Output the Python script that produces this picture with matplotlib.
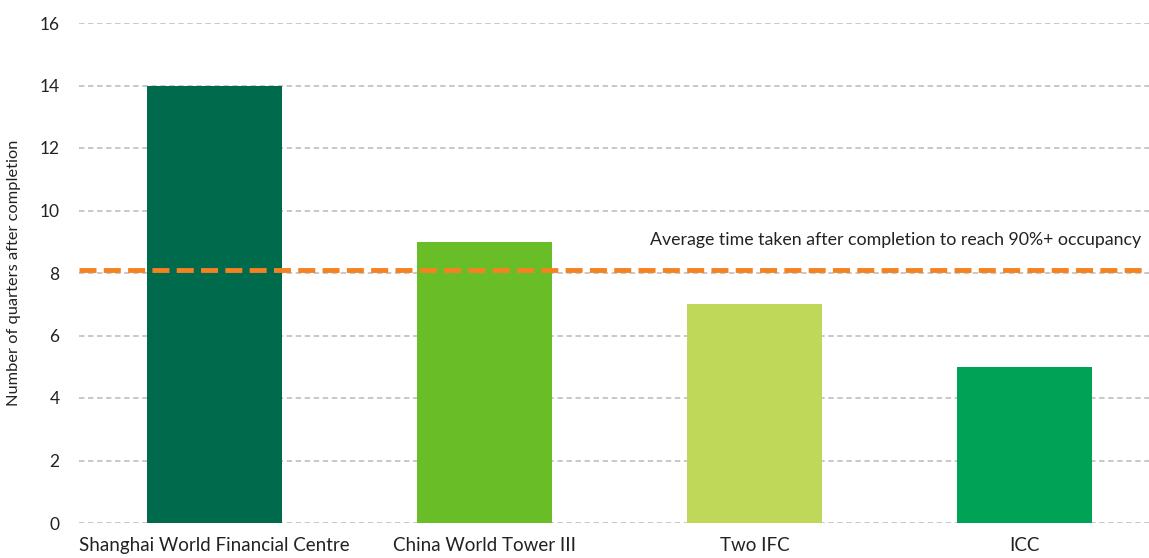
import matplotlib
matplotlib.use("Agg")
import matplotlib.pyplot as plt

# data
buildings = ["Shanghai World Financial Centre", "China World Tower III", "Two IFC", "ICC"]
quarters = [14, 9, 7, 5]
bar_colors = ["#006A4D", "#69BE28", "#BFD85A", "#00A356"]
average_quarters = 8.1
y_ticks = [0, 2, 4, 6, 8, 10, 12, 14, 16]

plt.rcParams["font.family"] = ["Lato", "DejaVu Sans"]

fig = plt.figure(figsize=(11.49, 5.58), dpi=100)
ax = fig.add_axes([79 / 1149, 35 / 558, 1 - 79 / 1149, 500 / 558])

ax.set_axisbelow(True)
ax.yaxis.grid(True, color="#c4c4c4", linestyle=(0, (3, 2)), linewidth=1.3)

x = range(len(buildings))
ax.bar(x, quarters, width=0.5, color=bar_colors)

ax.axhline(average_quarters, color="#F58220", linestyle=(0, (3.5, 1.5)), linewidth=3.5)
ax.text(3.43, average_quarters + 0.7, "Average time taken after completion to reach 90%+ occupancy",
        ha="right", va="bottom", fontsize=12.8, color="#222222")

ax.set_xlim(-0.5, 3.46)
ax.set_ylim(0, 16)
ax.set_yticks(y_ticks)
ax.set_xticks(list(x))
ax.set_xticklabels(buildings)
ax.tick_params(axis="y", length=0, labelsize=12.5, colors="#222222", pad=14)
ax.tick_params(axis="x", length=0, labelsize=13.5, colors="#222222", pad=10)
for s in ax.spines.values():
    s.set_visible(False)

ax.set_ylabel("Number of quarters after completion", fontsize=11.8, color="#222222", labelpad=13)

plt.savefig("out.png", dpi=100)
